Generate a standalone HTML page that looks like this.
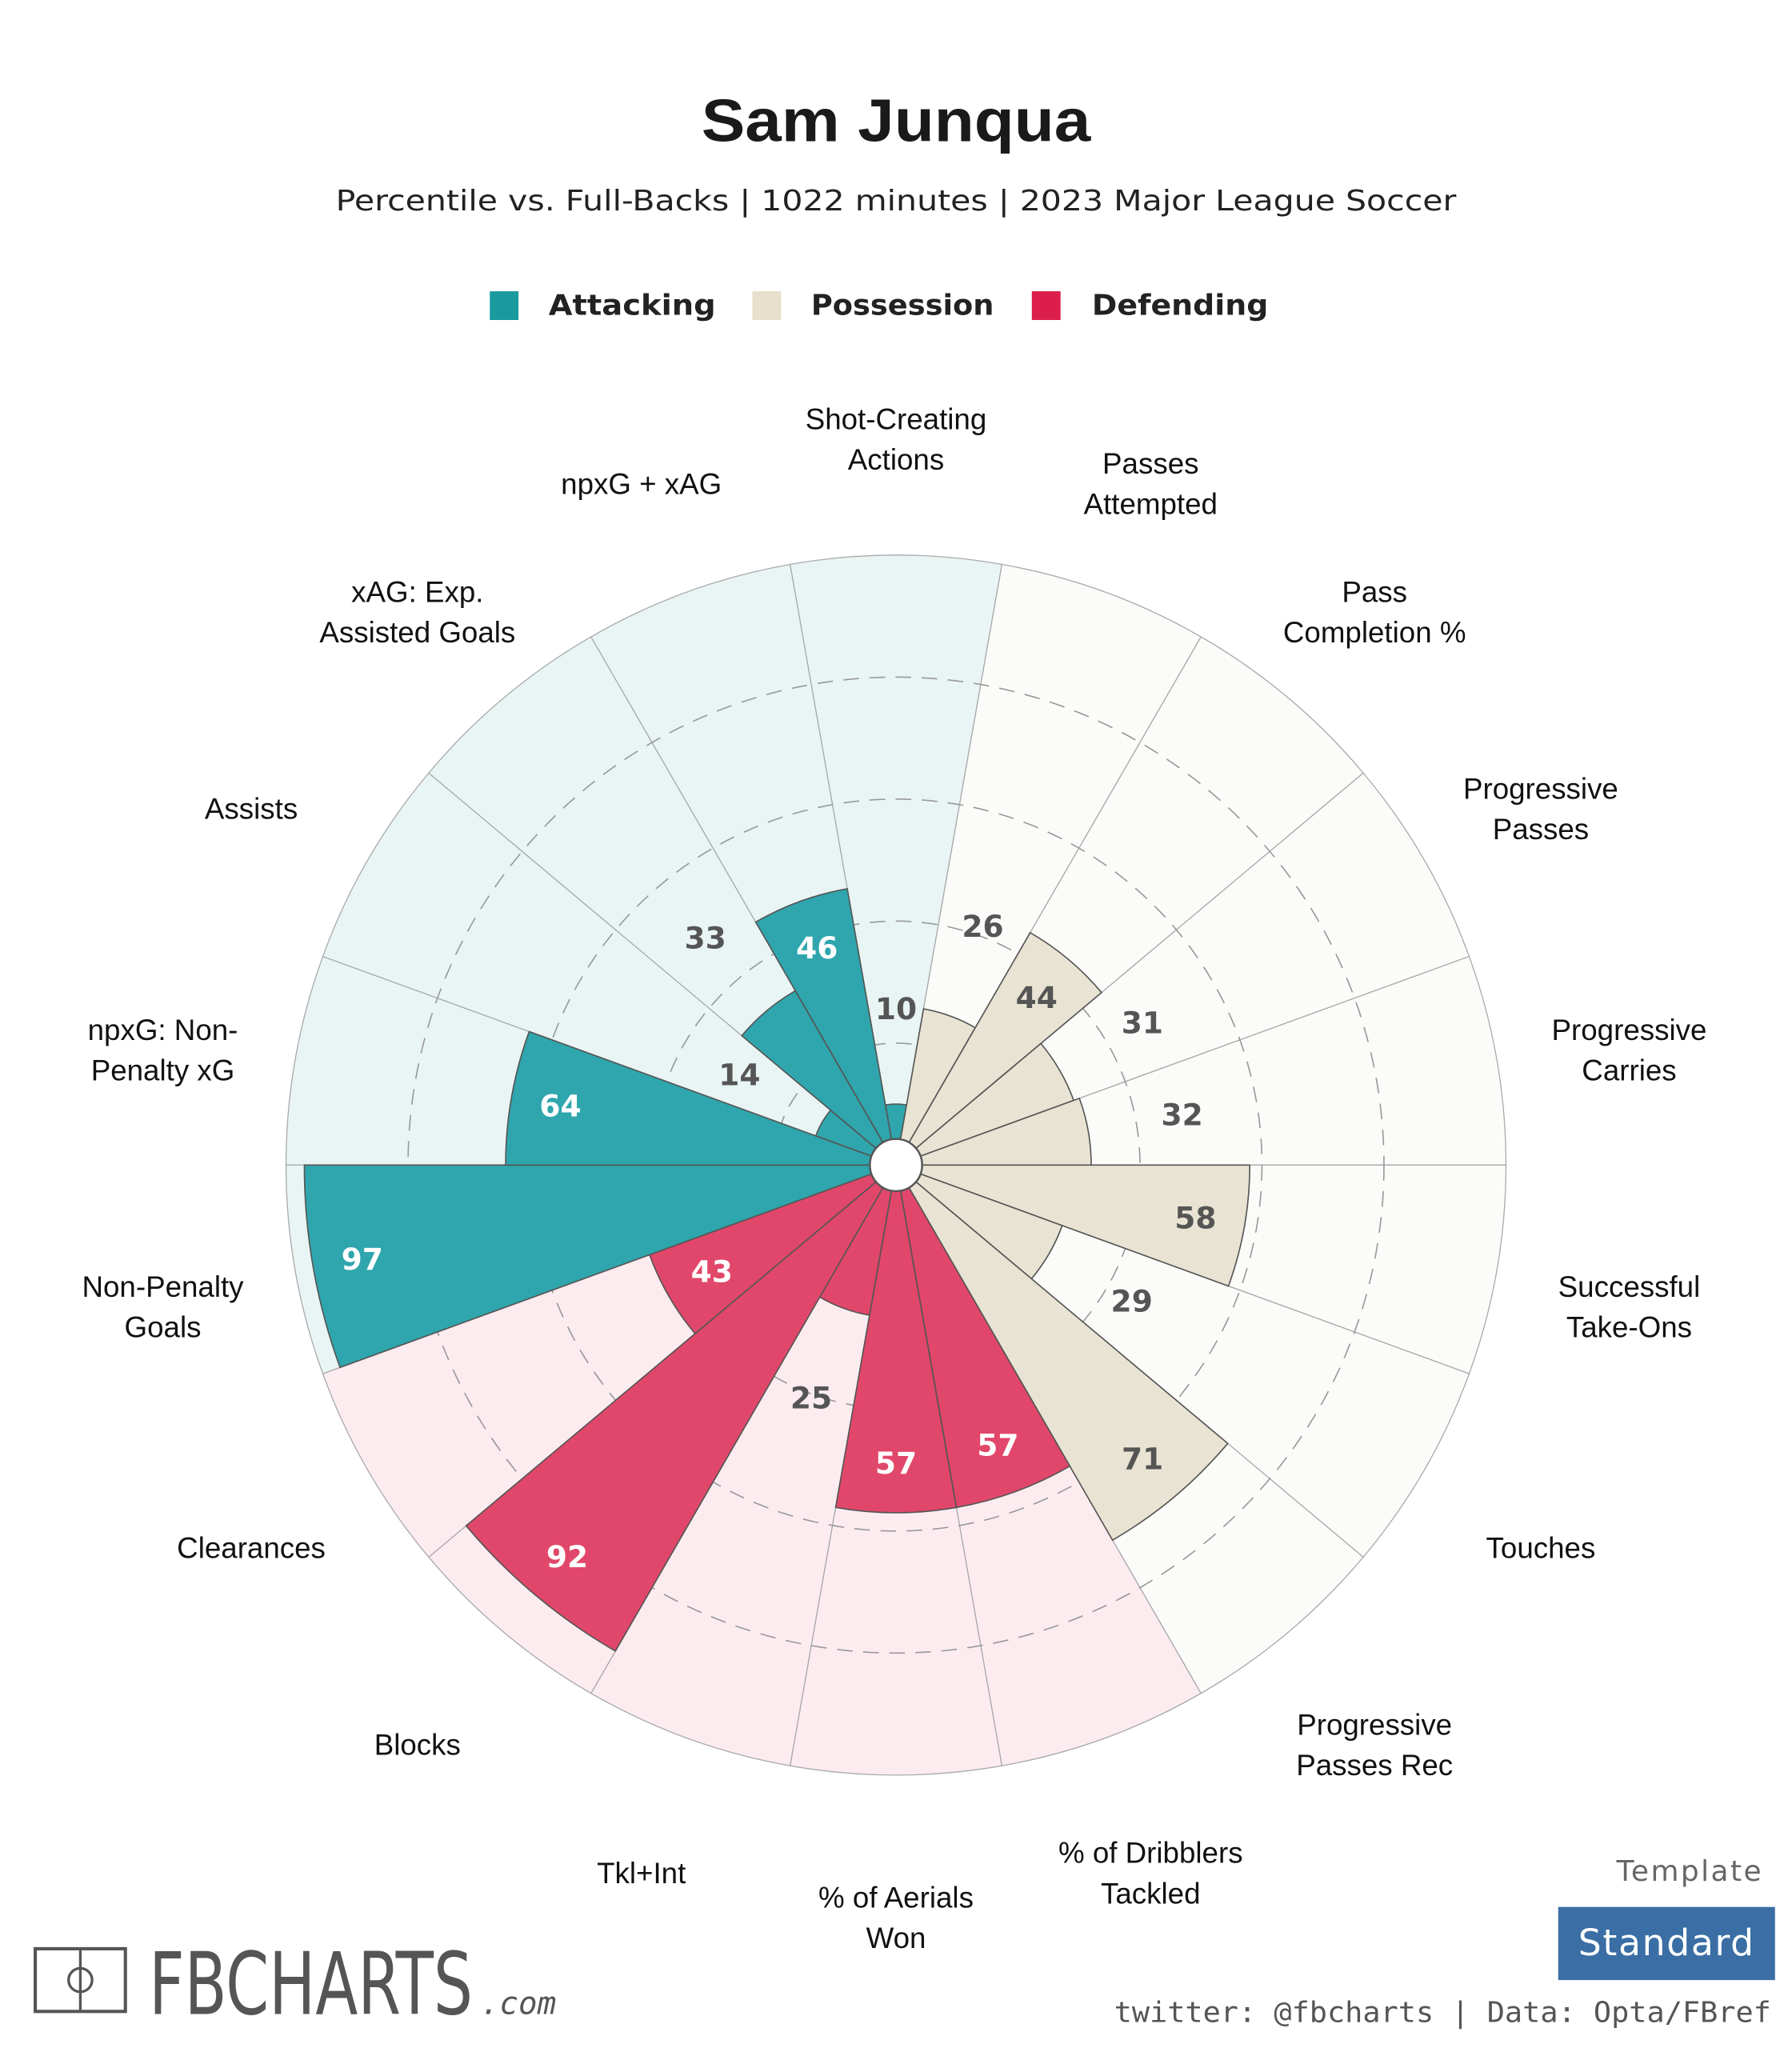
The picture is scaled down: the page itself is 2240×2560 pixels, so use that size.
<!DOCTYPE html>
<html><head><meta charset="utf-8"><style>
html,body{margin:0;padding:0;background:#fff}
svg{display:block}
</style></head><body>
<svg id="chart" width="2240" height="2560" viewBox="0 0 1372 1568" xmlns="http://www.w3.org/2000/svg">
<rect width="1372" height="1568" fill="#fff"/>
<text x="686" y="108" text-anchor="middle" font-family="Liberation Sans, sans-serif" font-weight="bold" font-size="46" fill="#1a1a1a" textLength="298" lengthAdjust="spacingAndGlyphs">Sam Junqua</text>
<text x="686" y="161" text-anchor="middle" font-family="DejaVu Sans, sans-serif" font-size="22" fill="#222" textLength="858" lengthAdjust="spacingAndGlyphs">Percentile vs. Full-Backs | 1022 minutes | 2023 Major League Soccer</text>
<g font-family="DejaVu Sans, sans-serif" font-weight="bold" font-size="22" fill="#222">
<rect x="375" y="223" width="22" height="22" fill="#1a9a9f"/>
<text x="420" y="241" textLength="128" lengthAdjust="spacingAndGlyphs">Attacking</text>
<rect x="576" y="223" width="22" height="22" fill="#e8e0cc"/>
<text x="621" y="241" textLength="140" lengthAdjust="spacingAndGlyphs">Possession</text>
<rect x="790" y="223" width="22" height="22" fill="#dc1f4a"/>
<text x="836" y="241" textLength="135" lengthAdjust="spacingAndGlyphs">Defending</text>
</g>
<g id="plot"></g>
<g>
<rect x="27" y="1492" width="69" height="48" fill="none" stroke="#555" stroke-width="2.5"/>
<line x1="61.5" y1="1492" x2="61.5" y2="1540" stroke="#555" stroke-width="2"/>
<circle cx="61.5" cy="1516" r="9" fill="none" stroke="#555" stroke-width="2"/>
<text x="114" y="1542" font-family="DejaVu Sans Condensed, DejaVu Sans, sans-serif" font-size="66" fill="#555" textLength="248" lengthAdjust="spacingAndGlyphs">FBCHARTS</text>
<text x="368" y="1542" font-family="DejaVu Sans Mono, monospace" font-style="italic" font-size="24" fill="#555">.com</text>
</g>
<text x="1350" y="1440" text-anchor="end" font-family="DejaVu Sans, sans-serif" font-size="22" fill="#666" letter-spacing="1.5">Template</text>
<rect x="1193" y="1460" width="166" height="56" fill="#3a6ea5"/>
<text x="1276" y="1497" text-anchor="middle" font-family="DejaVu Sans, sans-serif" font-size="28" fill="#fff" letter-spacing="1">Standard</text>
<text x="1356" y="1548" text-anchor="end" font-family="DejaVu Sans Mono, monospace" font-size="22" fill="#555" textLength="503" lengthAdjust="spacingAndGlyphs">twitter: @fbcharts | Data: Opta/FBref</text>
</svg>
<script>
const categories = ["Shot-Creating|Actions","Passes|Attempted","Pass|Completion %","Progressive|Passes","Progressive|Carries","Successful|Take-Ons","Touches","Progressive|Passes Rec","% of Dribblers|Tackled","% of Aerials|Won","Tkl+Int","Blocks","Clearances","Non-Penalty|Goals","npxG: Non-|Penalty xG","Assists","xAG: Exp.|Assisted Goals","npxG + xAG"];
const values = [10,26,44,31,32,58,29,71,57,57,25,92,43,97,64,14,33,46];
const groups = ["att","pos","pos","pos","pos","pos","pos","pos","def","def","def","def","def","att","att","att","att","att"];
const gridTicks = [20,40,60,80];

const NS="http://www.w3.org/2000/svg";
const CX=686, CY=892, RMAX=467, HOLE=20;
const barFill={att:"#2fa6ad",pos:"#e8e3d3",def:"#e1476a"};
const bgFill={att:"#e9f5f5",pos:"#fbfbf9",def:"#fcecf0"};
const labFill={att:"#fff",pos:"#555",def:"#fff"};
const plot=document.getElementById('plot');
const rScale=v=>v/100*RMAX;
const n=categories.length, step=360/n;
const pt=(r,deg)=>{const a=deg*Math.PI/180;return [CX+r*Math.cos(a),CY-r*Math.sin(a)];};
function wedge(r0,r1,a0,a1){
  const p1=pt(r0,a0),p2=pt(r1,a0),p3=pt(r1,a1),p4=pt(r0,a1);
  return `M${p1}L${p2}A${r1},${r1} 0 0 1 ${p3}L${p4}A${r0},${r0} 0 0 0 ${p1}Z`;
}
function mk(tag,attrs){const e=document.createElementNS(NS,tag);for(const k in attrs)e.setAttribute(k,attrs[k]);plot.appendChild(e);return e;}
categories.forEach((c,i)=>{
  const ctr=90-step*i;
  const e=mk('path',{d:wedge(HOLE,RMAX,ctr+step/2,ctr-step/2),fill:bgFill[groups[i]],stroke:"#aaa","stroke-width":0.8});
  
  
});
gridTicks.forEach(t=>{
  const e=mk('circle',{cx:CX,cy:CY,r:rScale(t),fill:"none",stroke:"#999","stroke-width":1,"stroke-dasharray":"12 8"});
  
  
});
categories.forEach((c,i)=>{
  const ctr=90-step*i;
  const e=mk('path',{d:wedge(HOLE,Math.max(rScale(values[i]),HOLE),ctr+step/2,ctr-step/2),fill:barFill[groups[i]],stroke:"#555","stroke-width":1});
  
  
});
const hole=mk('circle',{cx:CX,cy:CY,r:HOLE,fill:"#fff",stroke:"#555","stroke-width":1.5});


categories.forEach((c,i)=>{
  const ctr=90-step*i, v=values[i], rb=rScale(v);
  const inside=v>=40;
  const r=inside?rb-38:rb+73;
  const [x,y]=pt(r,ctr);
  const t=mk('text',{x:x,y:y+8,"text-anchor":"middle","font-family":"DejaVu Sans, sans-serif","font-weight":"bold","font-size":23,fill:inside?labFill[groups[i]]:"#555"});
  t.textContent=v;
  
  
  const a=ctr*Math.PI/180;
  const lx=CX+570*Math.cos(a);
  const ly=CY-556*Math.sin(a)+10-10*Math.sin(a);
  const lines=c.split('|');
  const g=mk('text',{x:lx,"text-anchor":"middle","font-family":"Liberation Sans, sans-serif","font-size":22.5,fill:"#111"});
  
  
  lines.forEach((ln,k)=>{
    const s=document.createElementNS(NS,'tspan');
    s.setAttribute('x',lx);
    s.setAttribute('y',ly+8+(k-(lines.length-1)/2)*31);
    s.textContent=ln;g.appendChild(s);
  });
});
</script>
</body></html>
